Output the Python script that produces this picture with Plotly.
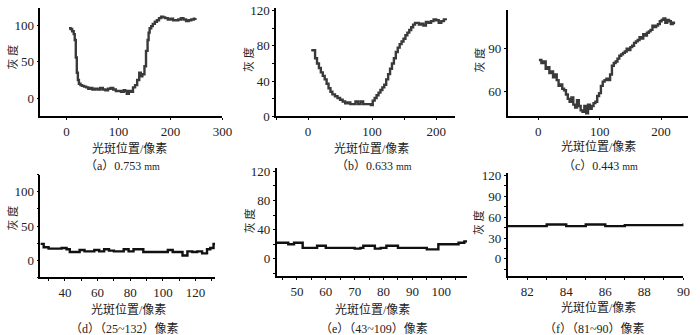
import plotly.graph_objects as go

W, H = 700, 335

# ---- data ----
xa = [5, 8, 11, 14, 16, 18, 20, 22, 24, 27, 30, 34, 38, 42, 46, 50, 55, 60, 65, 70, 75, 80, 85, 90, 95,
      100, 105, 110, 113, 116, 120, 124, 128, 132, 136, 140, 143, 146, 150, 153, 156, 158, 160, 163, 166,
      170, 174, 178, 182, 186, 190, 195, 200, 205, 210, 215, 220, 225, 230, 235, 240, 245, 248]
ga = [96, 95, 92, 88, 80, 56, 35, 25, 20, 18, 17, 16, 15, 13, 14, 12, 13, 12, 14, 12, 11, 13, 14, 12, 10,
      10, 9, 11, 10, 6, 10, 9, 15, 18, 25, 35, 30, 33, 44, 65, 80, 90, 96, 99, 102,
      105, 107, 110, 112, 111, 110, 108, 109, 107, 107, 108, 110, 108, 106, 107, 108, 109, 110]

xb = [5, 11, 14, 17, 20, 23, 26, 29, 32, 35, 38, 42, 46, 50, 54, 58, 62, 66, 70, 74, 78, 82, 86, 90, 94,
      98, 101, 104, 107, 110, 113, 116, 119, 122, 125, 128, 131, 134, 137, 140, 143, 146, 149, 152, 155,
      158, 161, 164, 167, 170, 173, 176, 180, 184, 188, 192, 196, 200, 204, 208, 212, 215]
gb = [75, 66, 60, 55, 50, 46, 42, 37, 32, 28, 25, 23, 21, 19, 17, 15, 16, 14, 14, 17, 14, 17, 14, 14, 14,
      13, 18, 21, 24, 27, 30, 33, 36, 42, 48, 54, 60, 66, 73, 78, 82, 85, 88, 92, 95,
      98, 101, 104, 106, 106, 104, 105, 103, 107, 106, 108, 110, 109, 106, 108, 110, 109]

xc = [1, 5, 9, 12, 15, 18, 21, 24, 27, 30, 33, 36, 39, 42, 45, 48, 51, 54, 57, 60, 63, 66, 69, 72, 75,
      78, 81, 84, 87, 90, 93, 96, 99, 102, 105, 108, 111, 114, 117, 120, 123, 126, 129, 132, 135,
      138, 141, 144, 147, 150, 153, 156, 159, 162, 165, 168, 171, 174, 177, 180, 183, 186, 189, 192, 195,
      198, 201, 204, 207, 210, 213, 216, 219, 221]
gc = [82, 80, 81, 76, 77, 73, 74, 70, 72, 68, 64, 65, 62, 61, 58, 55, 53, 56, 51, 49, 54, 50, 47, 46, 50,
      45, 51, 48, 50, 52, 53, 57, 59, 64, 67, 68, 69, 68, 72, 78, 80, 81, 83, 85, 86,
      87, 88, 90, 89, 91, 92, 94, 95, 96, 98, 97, 100, 99, 101, 102, 103, 106, 105, 106, 107,
      109, 110, 111, 108, 110, 109, 107, 108, 107]

xd = [25, 27, 30, 34, 38, 41, 43, 46, 49, 52, 55, 58, 61, 64, 67, 70, 73, 76, 79, 82, 85, 88, 91, 94, 97,
      100, 103, 106, 109, 112, 115, 118, 121, 124, 127, 129, 131, 132]
gd = [24, 19, 17, 17, 18, 16, 12, 12, 15, 13, 13, 15, 13, 16, 14, 13, 13, 16, 13, 16, 16, 12, 12, 12, 12,
      12, 15, 12, 12, 7, 13, 12, 13, 10, 16, 18, 24, 24]

xe = [43, 47, 49, 52, 57, 60, 65, 70, 72, 73, 77, 79, 81, 85, 90, 95, 99, 103, 106, 108, 109]
ge = [22, 20, 22, 15, 18, 15, 15, 14, 15, 18, 14, 15, 18, 15, 15, 13, 20, 20, 22, 24, 24]

xf = [81, 82, 83, 84, 85, 86, 87, 88, 89, 90]
gf = [47, 47, 49.5, 47, 49.5, 47, 48.5, 48.5, 48.5, 51]

y_title = "灰 度"
x_title = "光斑位置/像素"
captions = ["（a）0.753 <span style='font-size:10px'>mm</span>",
            "（b）0.633 <span style='font-size:10px'>mm</span>",
            "（c）0.443 <span style='font-size:10px'>mm</span>",
            "（d）（25~132）像素",
            "（e）（43~109）像素",
            "（f）（81~90）像素"]

FONT = "Liberation Serif, Noto Sans CJK SC"

# panel pixel boxes: (x0, x1, ytop, ybottom), axis ranges, tick steps
panels = [
    dict(x=xa, y=ga, box=(41, 225.7, 3, 116), xr=[-50, 300], yr=[-25, 124], dx=100, dy=50, col="#3a3a3a", minor=False),
    dict(x=xb, y=gb, box=(280, 462, 3, 116), xr=[-50, 230], yr=[0, 123], dx=100, dy=40, col="#3a3a3a", minor=True),
    dict(x=xc, y=gc, box=(515, 698, 5, 116), xr=[-50, 244], yr=[42.7, 117], dx=100, dy=30, col="#3a3a3a", minor=False),
    dict(x=xd, y=gd, box=(41, 218.3, 176.7, 283.3), xr=[25, 132], yr=[-25, 125], dx=20, dy=50, col="#111111", minor=True),
    dict(x=xe, y=ge, box=(280.7, 474, 170, 282.3), xr=[43, 109], yr=[-24, 124], dx=10, dy=40, col="#111111", minor=True),
    dict(x=xf, y=gf, box=(515, 693.3, 175, 282.3), xr=[81, 90], yr=[-25, 123], dx=2, dy=30, col="#111111", minor=True),
]

ytitle_pos = [(12.7, 54), (252.7, 57), (486.7, 57), (12.7, 221.7), (252.7, 225), (486, 226.7)]
xtitle_pos = [(131.7, 149), (376.7, 149), (607.5, 147.5), (130, 316.5), (377.5, 316.5), (606.7, 315)]
cap_pos = [(124, 168), (379, 168), (609, 168), (126, 337), (379.5, 337), (603, 337)]

fig = go.Figure()
layout = dict(width=W, height=H, margin=dict(l=0, r=0, t=0, b=0),
              paper_bgcolor="white", plot_bgcolor="white", showlegend=False,
              font=dict(family=FONT, size=12, color="black"))
annotations = []

def fx(px):
    return px / W

def fy(py):
    return 1 - py / H

for i, p in enumerate(panels):
    n = i + 1
    xa_name = "xaxis" if n == 1 else f"xaxis{n}"
    ya_name = "yaxis" if n == 1 else f"yaxis{n}"
    xref = "x" if n == 1 else f"x{n}"
    yref = "y" if n == 1 else f"y{n}"
    x0, x1, yt, yb = p["box"]
    fig.add_trace(go.Scatter(x=p["x"], y=p["y"], mode="lines", line_shape="hv",
                             line=dict(color=p["col"], width=2.4), xaxis=xref, yaxis=yref,
                             hoverinfo="skip"))
    common = dict(showgrid=False, zeroline=False, showline=True, linecolor="black", linewidth=1.5,
                  ticks="outside", ticklen=2, tickcolor="black", tickwidth=1,
                  tickfont=dict(family=FONT, size=13, color="#222"), mirror=False, fixedrange=True)
    xaxis = dict(common, domain=[fx(x0), fx(x1)], range=p["xr"], anchor=yref, dtick=p["dx"], tick0=0)
    yaxis = dict(common, domain=[fy(yb), fy(yt)], range=p["yr"], anchor=xref, dtick=p["dy"], tick0=0)
    if p["minor"]:
        xaxis["minor"] = dict(ticks="outside", ticklen=2, tickcolor="black", dtick=p["dx"] / 2)
        yaxis["minor"] = dict(ticks="outside", ticklen=2, tickcolor="black", dtick=p["dy"] / 2)
    layout[xa_name] = xaxis
    layout[ya_name] = yaxis

    tx, ty = ytitle_pos[i]
    annotations.append(dict(text=y_title, x=fx(tx), y=fy(ty), xref="paper", yref="paper",
                            showarrow=False, textangle=-90, font=dict(family=FONT, size=11, color="#222"),
                            xanchor="center", yanchor="middle"))
    tx, ty = xtitle_pos[i]
    annotations.append(dict(text=x_title, x=fx(tx), y=fy(ty), xref="paper", yref="paper",
                            showarrow=False, font=dict(family=FONT, size=12, color="#222"),
                            xanchor="center", yanchor="middle"))
    tx, ty = cap_pos[i]
    annotations.append(dict(text=captions[i], x=fx(tx), y=fy(ty), xref="paper", yref="paper",
                            showarrow=False, font=dict(family=FONT, size=12, color="#222"),
                            xanchor="center", yanchor="middle"))

layout["annotations"] = annotations
fig.update_layout(**layout)
fig.write_html("out.html")
